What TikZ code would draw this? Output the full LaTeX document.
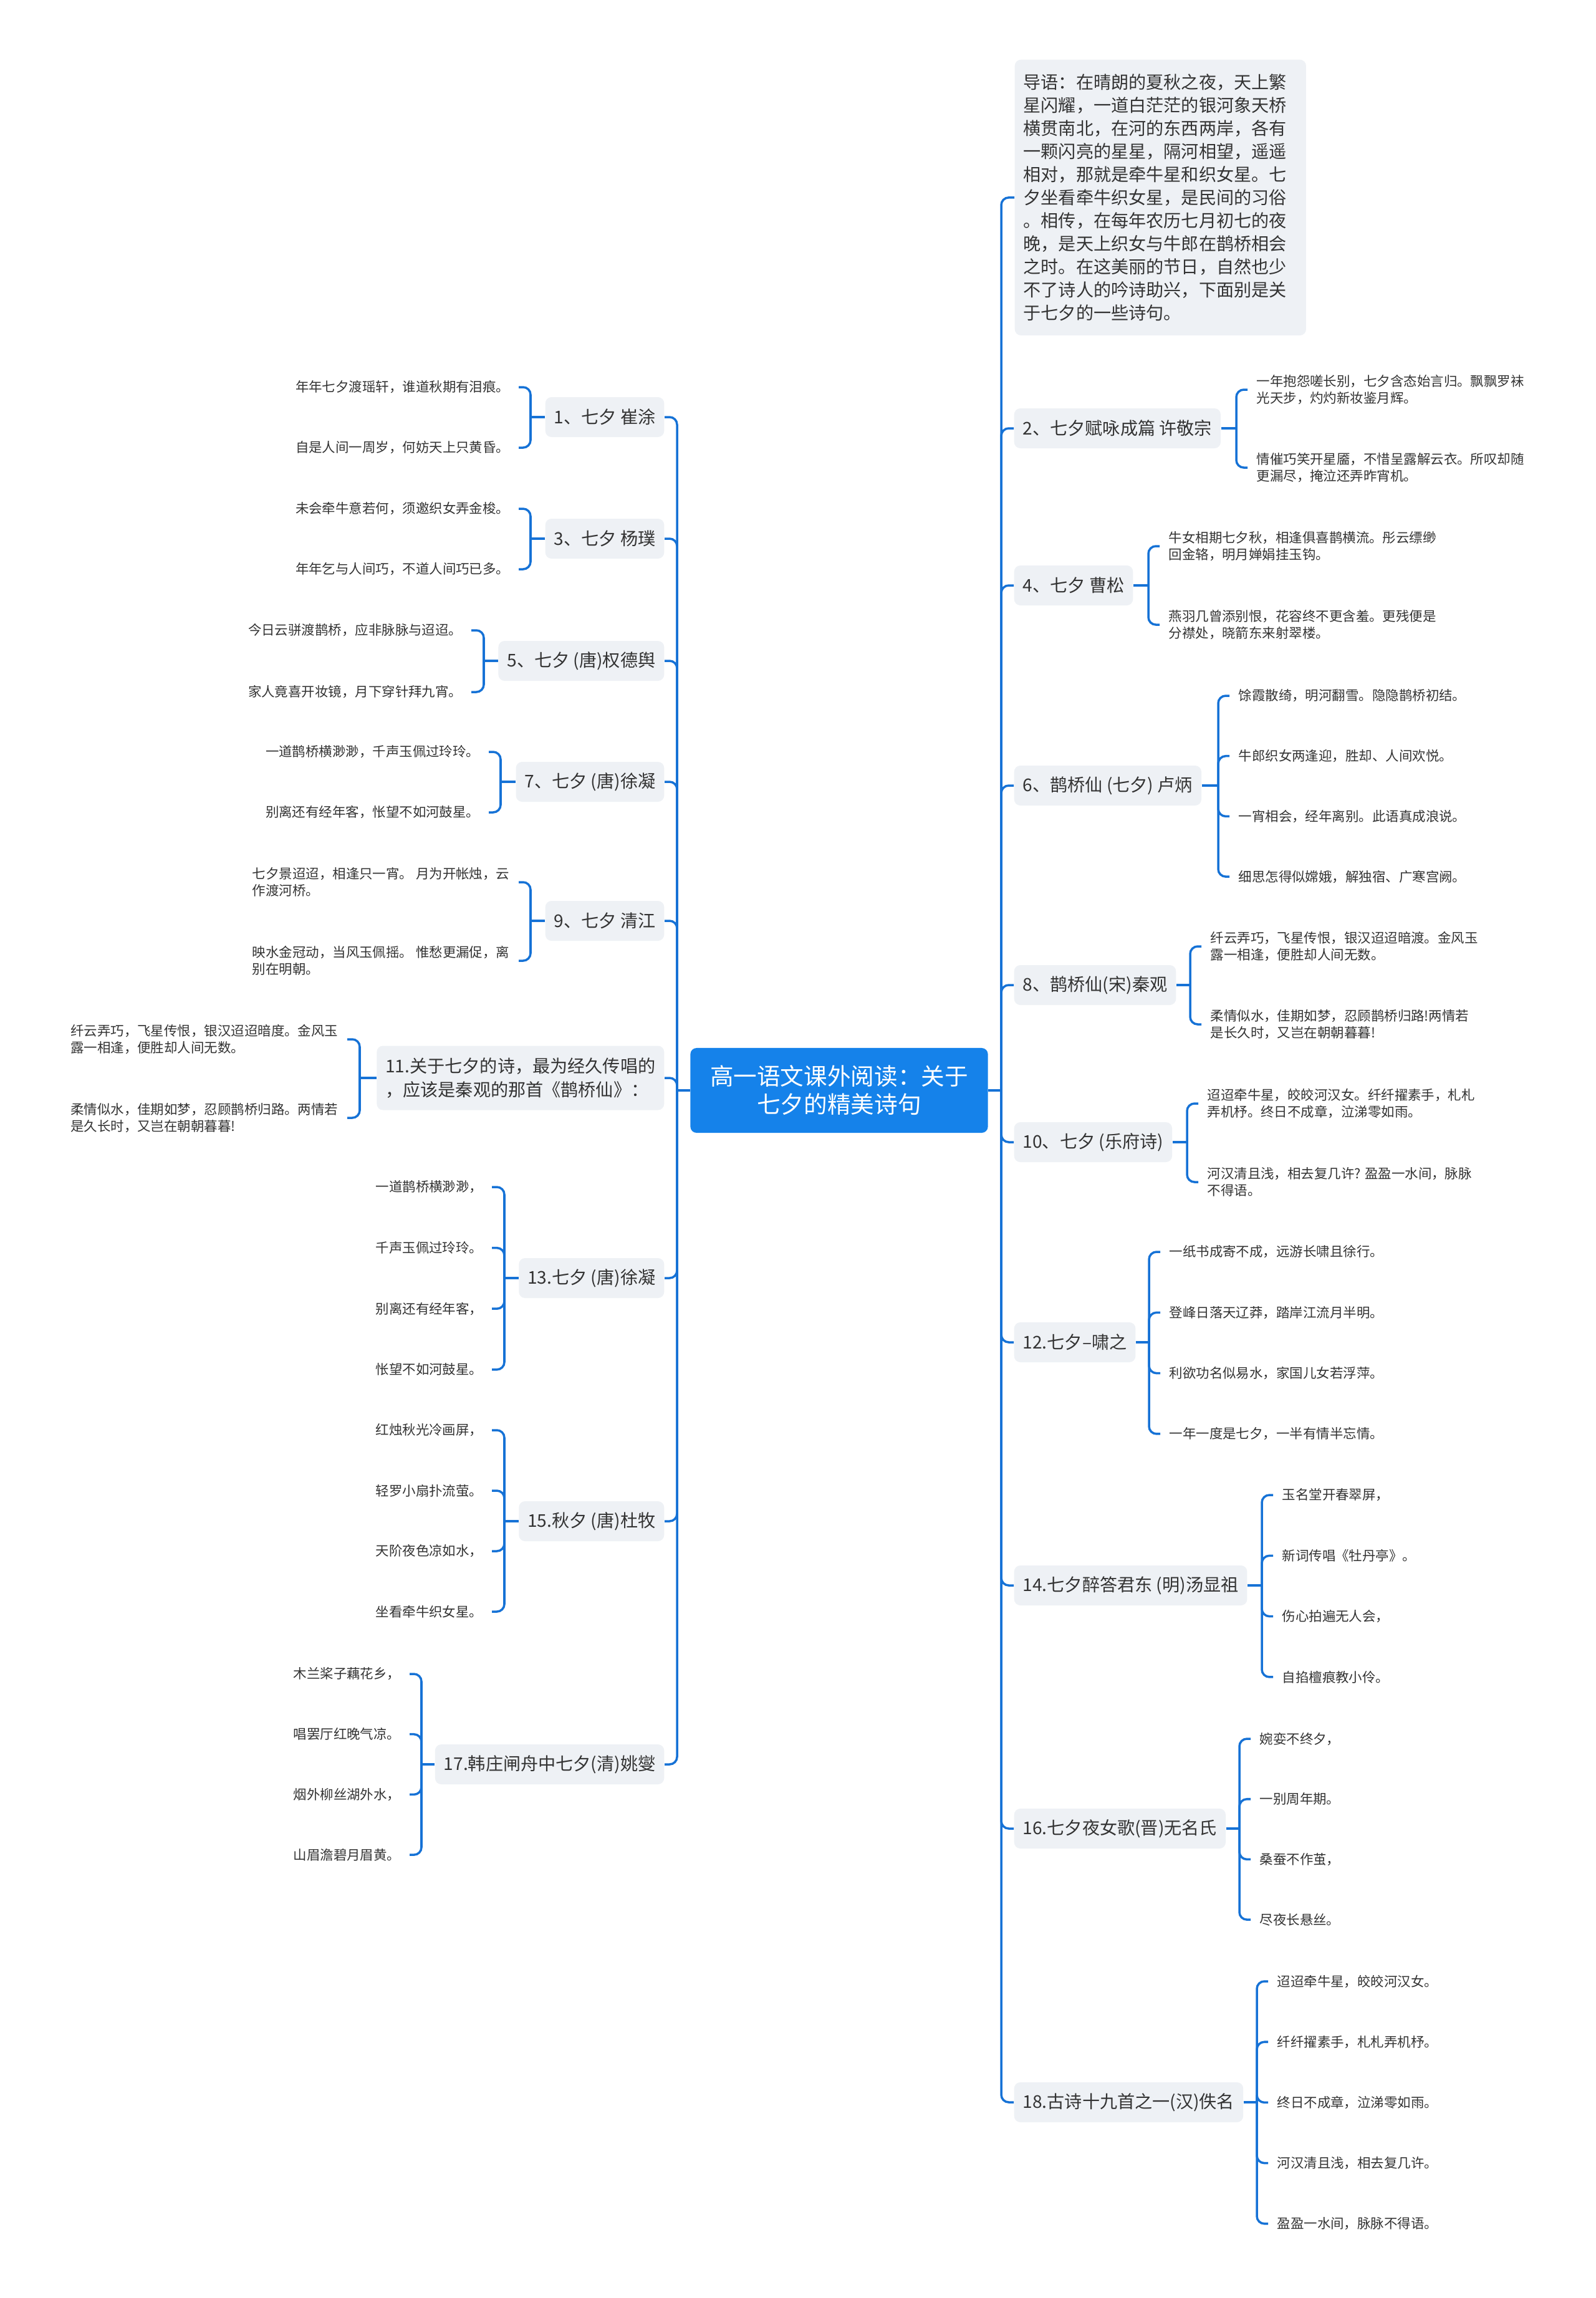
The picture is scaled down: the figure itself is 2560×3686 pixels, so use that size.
\documentclass[tikz,border=0pt]{standalone}
\usepackage{fontspec}
\setmainfont{Noto Sans CJK SC}
\usetikzlibrary{calc, positioning}
\definecolor{linkblue}{HTML}{1672D6}
\definecolor{rootblue}{HTML}{1582EA}
\definecolor{topicgray}{HTML}{EEF1F5}
\definecolor{ink}{HTML}{333333}

\begin{document}
\begin{tikzpicture}[x=0.01cm, y=-0.01cm,
  link/.style={draw=linkblue, line width=1pt, rounded corners=0.12cm},
  topic/.style={fill=topicgray, rounded corners=0.1cm, inner xsep=0.14cm, inner ysep=0.13cm,
    minimum height=0.64cm, text=ink, align=left, font=\fontsize{8}{10.8}\selectfont},
  leafr/.style={anchor=west, inner xsep=0.14cm, inner ysep=0.02cm, text=ink, align=left,
    font=\fontsize{6.1}{7.7}\selectfont},
  leafl/.style={leafr, anchor=east}]
  \useasboundingbox (0,0) rectangle (2560,3686);
  \fill[white] (0,0) rectangle (2560,3686);

  % centre
  \node[fill=rootblue, rounded corners=0.1cm, text=white, align=center, minimum width=4.77cm,
    minimum height=1.36cm, font=\fontsize{10.7}{12.8}\selectfont] (root) at (1346,1749)
    {高一语文课外阅读：关于\\七夕的精美诗句};
  \coordinate (rspine) at (1606,1749);
  \coordinate (lspine) at (1086,1749);

  % right side
  \node[topic, anchor=north west, text width=4.39cm, minimum height=4.42cm,
    font=\fontsize{8}{10.5}\selectfont] (intro) at (1627,95)
    {导语：在晴朗的夏秋之夜，天上繁\\星闪耀，一道白茫茫的银河象天桥\\横贯南北，在河的东西两岸，各有\\一颗闪亮的星星，隔河相望，遥遥\\相对，那就是牵牛星和织女星。七\\夕坐看牵牛织女星，是民间的习俗\\。相传，在每年农历七月初七的夜\\晚，是天上织女与牛郎在鹊桥相会\\之时。在这美丽的节日，自然也少\\不了诗人的吟诗助兴，下面别是关\\于七夕的一些诗句。};
  \node[topic, anchor=west] (b2) at (1626,687) {2、七夕赋咏成篇 许敬宗};
  \node[topic, anchor=west] (b4) at (1626,939) {4、七夕 曹松};
  \node[topic, anchor=west] (b6) at (1626,1260) {6、鹊桥仙 (七夕) 卢炳};
  \node[topic, anchor=west] (b8) at (1626,1580) {8、鹊桥仙(宋)秦观};
  \node[topic, anchor=west] (b10) at (1626,1832) {10、七夕 (乐府诗)};
  \node[topic, anchor=west] (b12) at (1626,2153) {12.七夕–啸之};
  \node[topic, anchor=west] (b14) at (1626,2543) {14.七夕醉答君东 (明)汤显祖};
  \node[topic, anchor=west] (b16) at (1626,2933) {16.七夕夜女歌(晋)无名氏};
  \node[topic, anchor=west] (b18) at (1626,3372) {18.古诗十九首之一(汉)佚名};

  % left side
  \node[topic, anchor=east] (b1) at (1066,669) {1、七夕 崔涂};
  \node[topic, anchor=east] (b3) at (1066,864) {3、七夕 杨璞};
  \node[topic, anchor=east] (b5) at (1066,1060) {5、七夕 (唐)权德舆};
  \node[topic, anchor=east] (b7) at (1066,1254) {7、七夕 (唐)徐凝};
  \node[topic, anchor=east] (b9) at (1066,1477) {9、七夕 清江};
  \node[topic, anchor=east, minimum height=1.03cm] (b11) at (1066,1729)
    {11.关于七夕的诗，最为经久传唱的\\，应该是秦观的那首《鹊桥仙》：};
  \node[topic, anchor=east] (b13) at (1066,2050) {13.七夕 (唐)徐凝};
  \node[topic, anchor=east] (b15) at (1066,2440) {15.秋夕 (唐)杜牧};
  \node[topic, anchor=east] (b17) at (1066,2830) {17.韩庄闸舟中七夕(清)姚燮};

  % trunk
  \draw[link] (root.east) -- (rspine);
  \draw[link] (root.west) -- (lspine);
  \foreach \nm in {intro,b2,b4,b6,b8,b10,b12,b14,b16,b18}
    \draw[link] (rspine) |- (\nm.west);
  \foreach \nm in {b1,b3,b5,b7,b9,b11,b13,b15,b17}
    \draw[link] (lspine) |- (\nm.east);

  % junctions of the brackets
  \coordinate (jb2) at (1983,687);   \coordinate (jb4) at (1842,939);
  \coordinate (jb6) at (1954,1260);  \coordinate (jb8) at (1909,1580);
  \coordinate (jb10) at (1904,1832); \coordinate (jb12) at (1843,2153);
  \coordinate (jb14) at (2024,2543); \coordinate (jb16) at (1988,2933);
  \coordinate (jb18) at (2016,3372);
  \coordinate (jb1) at (851,669);    \coordinate (jb3) at (851,864);
  \coordinate (jb5) at (776,1060);   \coordinate (jb7) at (803,1254);
  \coordinate (jb9) at (851,1477);   \coordinate (jb11) at (577,1729);
  \coordinate (jb13) at (809,2050);  \coordinate (jb15) at (809,2440);
  \coordinate (jb17) at (676,2830);
  \foreach \nm in {b2,b4,b6,b8,b10,b12,b14,b16,b18}
    \draw[link] (\nm.east) -- (j\nm);
  \foreach \nm in {b1,b3,b5,b7,b9,b11,b13,b15,b17}
    \draw[link] (\nm.west) -- (j\nm);

  % right leaves
  \node[leafr] (b2l1) at (2001,625) {一年抱怨嗟长别，七夕含态始言归。飘飘罗袜\\光天步，灼灼新妆鉴月辉。};
  \node[leafr] (b2l2) at (2001,750) {情催巧笑开星靥，不惜呈露解云衣。所叹却随\\更漏尽，掩泣还弄昨宵机。};
  \node[leafr] (b4l1) at (1860,876) {牛女相期七夕秋，相逢俱喜鹊横流。彤云缥缈\\回金辂，明月婵娟挂玉钩。};
  \node[leafr] (b4l2) at (1860,1002) {燕羽几曾添别恨，花容终不更含羞。更残便是\\分襟处，晓箭东来射翠楼。};
  \node[leafr] (b8l1) at (1927,1518) {纤云弄巧，飞星传恨，银汉迢迢暗渡。金风玉\\露一相逢，便胜却人间无数。};
  \node[leafr] (b8l2) at (1927,1643) {柔情似水，佳期如梦，忍顾鹊桥归路!两情若\\是长久时，又岂在朝朝暮暮!};
  \node[leafr] (b10l1) at (1922,1770) {迢迢牵牛星，皎皎河汉女。纤纤擢素手，札札\\弄机杼。终日不成章，泣涕零如雨。};
  \node[leafr] (b10l2) at (1922,1896) {河汉清且浅，相去复几许? 盈盈一水间，脉脉\\不得语。};
  \foreach \nm in {b2,b4,b8,b10}
    \foreach \i in {1,2}
      \draw[link] (j\nm) |- (\nm l\i.west);
  \foreach \t [count=\i] in {馀霞散绮，明河翻雪。隐隐鹊桥初结。, 牛郎织女两逢迎，胜却、人间欢悦。,
      一宵相会，经年离别。此语真成浪说。, 细思怎得似嫦娥，解独宿、广寒宫阙。}{
    \node[leafr] (b6l\i) at (1972,{1116+(\i-1)*96.7}) {\t};
    \draw[link] (jb6) |- (b6l\i.west);
  }
  \foreach \t [count=\i] in {一纸书成寄不成，远游长啸且徐行。, 登峰日落天辽莽，踏岸江流月半明。,
      利欲功名似易水，家国儿女若浮萍。, 一年一度是七夕，一半有情半忘情。}{
    \node[leafr] (b12l\i) at (1861,{2008+(\i-1)*97.3}) {\t};
    \draw[link] (jb12) |- (b12l\i.west);
  }
  \foreach \t [count=\i] in {玉名堂开春翠屏，, 新词传唱《牡丹亭》。, 伤心拍遍无人会，, 自掐檀痕教小伶。}{
    \node[leafr] (b14l\i) at (2042,{2398+(\i-1)*97.3}) {\t};
    \draw[link] (jb14) |- (b14l\i.west);
  }
  \foreach \t [count=\i] in {婉娈不终夕，, 一别周年期。, 桑蚕不作茧，, 尽夜长悬丝。}{
    \node[leafr] (b16l\i) at (2006,{2789+(\i-1)*96.7}) {\t};
    \draw[link] (jb16) |- (b16l\i.west);
  }
  \foreach \t [count=\i] in {迢迢牵牛星，皎皎河汉女。, 纤纤擢素手，札札弄机杼。, 终日不成章，泣涕零如雨。,
      河汉清且浅，相去复几许。, 盈盈一水间，脉脉不得语。}{
    \node[leafr] (b18l\i) at (2034,{3178+(\i-1)*97.2}) {\t};
    \draw[link] (jb18) |- (b18l\i.west);
  }

  % left leaves
  \node[leafl] (b1l1) at (832,621) {年年七夕渡瑶轩，谁道秋期有泪痕。};
  \node[leafl] (b1l2) at (832,718) {自是人间一周岁，何妨天上只黄昏。};
  \node[leafl] (b3l1) at (832,816) {未会牵牛意若何，须邀织女弄金梭。};
  \node[leafl] (b3l2) at (832,913) {年年乞与人间巧，不道人间巧已多。};
  \node[leafl] (b5l1) at (756,1011) {今日云骈渡鹊桥，应非脉脉与迢迢。};
  \node[leafl] (b5l2) at (756,1110) {家人竟喜开妆镜，月下穿针拜九宵。};
  \node[leafl] (b7l1) at (784,1206) {一道鹊桥横渺渺，千声玉佩过玲玲。};
  \node[leafl] (b7l2) at (784,1303) {别离还有经年客，怅望不如河鼓星。};
  \node[leafl] (b9l1) at (832,1415) {七夕景迢迢，相逢只一宵。 月为开帐烛，云\\作渡河桥。};
  \node[leafl] (b9l2) at (832,1541) {映水金冠动，当风玉佩摇。 惟愁更漏促，离\\别在明朝。};
  \node[leafl] (b11l1) at (557,1667) {纤云弄巧，飞星传恨，银汉迢迢暗度。金风玉\\露一相逢，便胜却人间无数。};
  \node[leafl] (b11l2) at (557,1793) {柔情似水，佳期如梦，忍顾鹊桥归路。两情若\\是久长时，又岂在朝朝暮暮!};
  \foreach \nm in {b1,b3,b5,b7,b9,b11}
    \foreach \i in {1,2}
      \draw[link] (j\nm) |- (\nm l\i.east);
  \foreach \t [count=\i] in {一道鹊桥横渺渺，, 千声玉佩过玲玲。, 别离还有经年客，, 怅望不如河鼓星。}{
    \node[leafl] (b13l\i) at (789,{1904+(\i-1)*97.6}) {\t};
    \draw[link] (jb13) |- (b13l\i.east);
  }
  \foreach \t [count=\i] in {红烛秋光冷画屏，, 轻罗小扇扑流萤。, 天阶夜色凉如水，, 坐看牵牛织女星。}{
    \node[leafl] (b15l\i) at (789,{2294+(\i-1)*97}) {\t};
    \draw[link] (jb15) |- (b15l\i.east);
  }
  \foreach \t [count=\i] in {木兰桨子藕花乡，, 唱罢厅红晚气凉。, 烟外柳丝湖外水，, 山眉澹碧月眉黄。}{
    \node[leafl] (b17l\i) at (657,{2685+(\i-1)*96.7}) {\t};
    \draw[link] (jb17) |- (b17l\i.east);
  }
\end{tikzpicture}
\end{document}
